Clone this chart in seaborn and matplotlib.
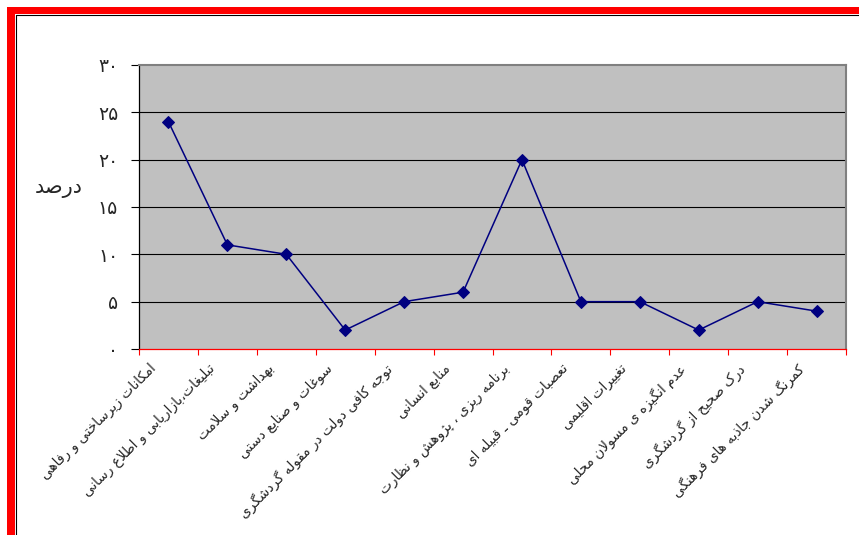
import matplotlib
matplotlib.use("Agg")
import matplotlib.pyplot as plt
import matplotlib.transforms as mtransforms
from matplotlib.patches import Rectangle
from matplotlib.lines import Line2D
from matplotlib.ticker import FixedLocator
import numpy as np
import pandas as pd
import seaborn as sns

# ---------------- data ----------------
categories = [
    "امکانات زیرساختی و رفاهی",
    "تبلیغات،بازاریابی و اطلاع رسانی",
    "بهداشت و سلامت",
    "سوغات و صنایع دستی",
    "توجه کافی دولت در مقوله گردشگری",
    "منابع انسانی",
    "برنامه ریزی ، پژوهش و نظارت",
    "تعصبات قومی ـ قبیله ای",
    "تغییرات اقلیمی",
    "عدم انگیزه ی مسولان محلی",
    "درک صحیح از گردشگری",
    "کمرنگ شدن جاذبه های فرهنگی",
]
values = [24, 11, 10, 2, 5, 6, 20, 5, 5, 2, 5, 4]
y_ticks = [0, 5, 10, 15, 20, 25, 30]
y_tick_labels = ["۰", "۵", "۱۰", "۱۵", "۲۰", "۲۵", "۳۰"]
y_label = "درصد"

# ---------------- minimal Arabic/Persian shaping ----------------
_F = {
    'ا': ('\uFE8D', '\uFE8E', None, None),
    'آ': ('\uFE81', '\uFE82', None, None),
    'ب': ('\uFE8F', '\uFE90', '\uFE91', '\uFE92'),
    'پ': ('\uFB56', '\uFB57', '\uFB58', '\uFB59'),
    'ت': ('\uFE95', '\uFE96', '\uFE97', '\uFE98'),
    'ث': ('\uFE99', '\uFE9A', '\uFE9B', '\uFE9C'),
    'ج': ('\uFE9D', '\uFE9E', '\uFE9F', '\uFEA0'),
    'چ': ('\uFB7A', '\uFB7B', '\uFB7C', '\uFB7D'),
    'ح': ('\uFEA1', '\uFEA2', '\uFEA3', '\uFEA4'),
    'خ': ('\uFEA5', '\uFEA6', '\uFEA7', '\uFEA8'),
    'د': ('\uFEA9', '\uFEAA', None, None),
    'ذ': ('\uFEAB', '\uFEAC', None, None),
    'ر': ('\uFEAD', '\uFEAE', None, None),
    'ز': ('\uFEAF', '\uFEB0', None, None),
    'ژ': ('\uFB8A', '\uFB8B', None, None),
    'س': ('\uFEB1', '\uFEB2', '\uFEB3', '\uFEB4'),
    'ش': ('\uFEB5', '\uFEB6', '\uFEB7', '\uFEB8'),
    'ص': ('\uFEB9', '\uFEBA', '\uFEBB', '\uFEBC'),
    'ض': ('\uFEBD', '\uFEBE', '\uFEBF', '\uFEC0'),
    'ط': ('\uFEC1', '\uFEC2', '\uFEC3', '\uFEC4'),
    'ظ': ('\uFEC5', '\uFEC6', '\uFEC7', '\uFEC8'),
    'ع': ('\uFEC9', '\uFECA', '\uFECB', '\uFECC'),
    'غ': ('\uFECD', '\uFECE', '\uFECF', '\uFED0'),
    'ف': ('\uFED1', '\uFED2', '\uFED3', '\uFED4'),
    'ق': ('\uFED5', '\uFED6', '\uFED7', '\uFED8'),
    'ک': ('\uFB8E', '\uFB8F', '\uFB90', '\uFB91'),
    'گ': ('\uFB92', '\uFB93', '\uFB94', '\uFB95'),
    'ل': ('\uFEDD', '\uFEDE', '\uFEDF', '\uFEE0'),
    'م': ('\uFEE1', '\uFEE2', '\uFEE3', '\uFEE4'),
    'ن': ('\uFEE5', '\uFEE6', '\uFEE7', '\uFEE8'),
    'و': ('\uFEED', '\uFEEE', None, None),
    'ه': ('\uFEE9', '\uFEEA', '\uFEEB', '\uFEEC'),
    'ی': ('\uFBFC', '\uFBFD', '\uFBFE', '\uFBFF'),
    'ـ': ('\u0640', '\u0640', '\u0640', '\u0640'),
}


def _dual(c):
    return c in _F and _F[c][2] is not None


def shape(text):
    out = []
    i = 0
    n = len(text)
    while i < n:
        c = text[i]
        if c not in _F:
            out.append(c)
            i += 1
            continue
        prev = text[i - 1] if i > 0 else ''
        prev_conn = _dual(prev)
        nxt = text[i + 1] if i + 1 < n else ''
        if c == 'ل' and nxt in ('ا', 'آ'):
            if nxt == 'ا':
                out.append('\uFEFC' if prev_conn else '\uFEFB')
            else:
                out.append('\uFEF6' if prev_conn else '\uFEF5')
            i += 2
            continue
        next_conn = _dual(c) and nxt in _F
        iso, fin, ini, med = _F[c]
        if prev_conn and next_conn:
            out.append(med)
        elif prev_conn:
            out.append(fin)
        elif next_conn:
            out.append(ini)
        else:
            out.append(iso)
        i += 1
    return ''.join(out)[::-1]


shaped_cats = [shape(c) for c in categories]

# ---------------- figure ----------------
sns.set_style("white")
plt.rcParams['font.family'] = ['DejaVu Sans']

W, H = 859, 535
fig = plt.figure(figsize=(W / 100, H / 100), dpi=100)
fig.patch.set_facecolor('white')

ax = fig.add_axes([139 / W, 1 - 349 / H, 707 / W, 284 / H])
ax.set_facecolor('#C0C0C0')

df = pd.DataFrame({"cat": shaped_cats, "val": values})
sns.lineplot(data=df, x="cat", y="val", sort=False, ax=ax, color='#000080',
             marker='D', markersize=6.5, markeredgecolor='#000080',
             linewidth=1.1, zorder=5)

n = len(categories)
ax.set_xlim(-0.5, n - 0.5)
ax.set_ylim(y_ticks[0], y_ticks[-1])

# y axis
ax.set_yticks(y_ticks)
ax.set_yticklabels(y_tick_labels, fontsize=13.5)
ax.tick_params(axis='y', direction='out', length=6, width=0.8, color='black',
               pad=9, left=True)
for yv in y_ticks[1:-1]:
    ax.axhline(yv, color='black', linewidth=0.8, zorder=1)

# x axis: labels at centers, red ticks at boundaries
ax.set_xticks(range(n))
ax.set_xticklabels(shaped_cats, rotation=45, ha='right', rotation_mode='anchor',
                   fontsize=9.8)
ax.tick_params(axis='x', which='major', length=0, pad=9)
ax.xaxis.set_minor_locator(FixedLocator(np.arange(-0.5, n, 1.0)))
ax.tick_params(axis='x', which='minor', direction='out', length=4, width=0.8,
               color='#FF0000', bottom=True)
offset = mtransforms.ScaledTranslation(-20 / 100, 0, fig.dpi_scale_trans)
for lab in ax.get_xticklabels():
    lab.set_transform(lab.get_transform() + offset)

ax.set_xlabel("")
ax.set_ylabel(shape(y_label), rotation=0, fontsize=15, ha='center', va='center')
ax.yaxis.set_label_coords((59 - 139) / 707, (349 - 188) / 284)

# spines
for s in ax.spines.values():
    s.set_visible(True)
ax.spines['left'].set_color('black')
ax.spines['left'].set_linewidth(0.9)
ax.spines['bottom'].set_color('#FF0000')
ax.spines['bottom'].set_linewidth(0.9)
ax.spines['top'].set_color('#808080')
ax.spines['top'].set_linewidth(1.5)
ax.spines['right'].set_color('#808080')
ax.spines['right'].set_linewidth(1.5)

# red frame (left and top)
fig.patches.append(Rectangle((7 / W, 0), 8 / W, 1 - 7 / H, transform=fig.transFigure,
                             facecolor='#FF0000', edgecolor='none', zorder=0))
fig.patches.append(Rectangle((7 / W, 1 - 14 / H), 1 - 7 / W, 7 / H, transform=fig.transFigure,
                             facecolor='#FF0000', edgecolor='none', zorder=0))
fig.lines.append(Line2D([15.5 / W, 15.5 / W], [0, 1 - 14.5 / H], transform=fig.transFigure,
                        color='black', linewidth=0.8))
fig.lines.append(Line2D([15.5 / W, 1], [1 - 14.5 / H, 1 - 14.5 / H], transform=fig.transFigure,
                        color='black', linewidth=0.8))

fig.savefig("out.png", dpi=100, facecolor='white')
